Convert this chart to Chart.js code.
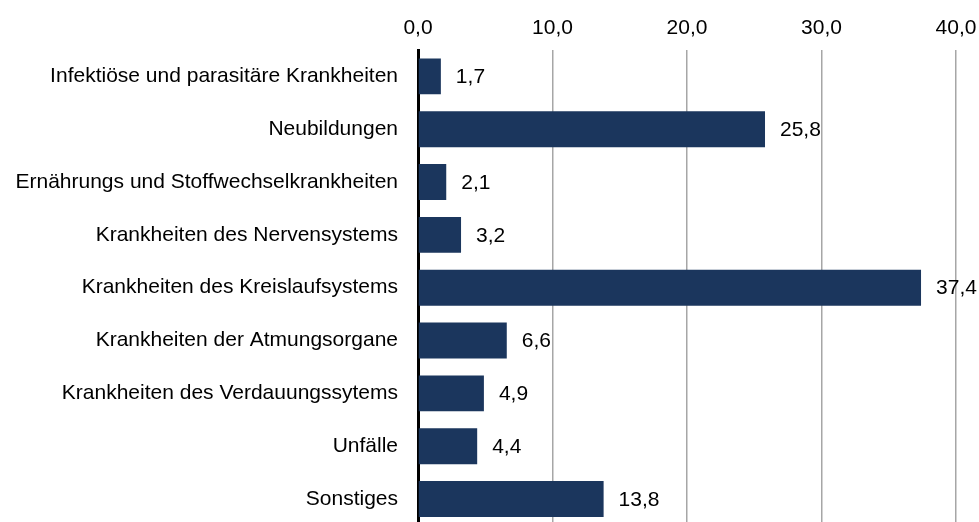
<!DOCTYPE html>
<html>
<head>
<meta charset="utf-8">
<script src="https://cdn.jsdelivr.net/npm/chart.js@4/dist/chart.umd.min.js"></script>
<style>
  html, body { margin: 0; padding: 0; background: #fff; overflow: hidden; }
  canvas { display: block; }
</style>
</head>
<body>
<canvas id="chart" width="979" height="558"></canvas>
<script>
// Todesursachen, Anteile in %
const categories = [
  "Infektiöse und parasitäre Krankheiten",
  "Neubildungen",
  "Ernährungs und Stoffwechselkrankheiten",
  "Krankheiten des Nervensystems",
  "Krankheiten des Kreislaufsystems",
  "Krankheiten der Atmungsorgane",
  "Krankheiten des Verdauungssytems",
  "Unfälle",
  "Sonstiges"
];
const values = [1.7, 25.8, 2.1, 3.2, 37.4, 6.6, 4.9, 4.4, 13.8];
const tickValues = [0, 10, 20, 30, 40];

const FONT = "'Liberation Sans', Arial, sans-serif";
const fmt = v => v.toFixed(1).replace(".", ",");

// value labels to the right of each bar
const valueLabels = {
  id: "valueLabels",
  afterDatasetsDraw(chart) {
    const ctx = chart.ctx;
    const meta = chart.getDatasetMeta(0);
    ctx.save();
    ctx.font = "21px " + FONT;
    ctx.fillStyle = "#000";
    ctx.textAlign = "left";
    ctx.textBaseline = "middle";
    meta.data.forEach((bar, i) => {
      ctx.fillText(fmt(values[i]), bar.x + 15, bar.y + 1);
    });
    ctx.restore();
  }
};

new Chart(document.getElementById("chart"), {
  type: "bar",
  data: {
    labels: categories,
    datasets: [{
      data: values,
      backgroundColor: "#1b365d",
      categoryPercentage: 1,
      barPercentage: 0.68
    }]
  },
  options: {
    indexAxis: "y",
    responsive: false,
    animation: false,
    layout: { padding: { left: 0, right: 23, top: 0, bottom: 0 } },
    plugins: {
      legend: { display: false },
      tooltip: { enabled: false }
    },
    scales: {
      x: {
        position: "top",
        min: 0,
        max: 40,
        afterBuildTicks: s => { s.ticks = tickValues.map(v => ({ value: v })); },
        afterFit: s => { s.height = 50; s.paddingLeft = 0; s.paddingRight = 0; },
        ticks: {
          padding: 9,
          color: "#000",
          font: { family: FONT, size: 21 },
          callback: v => fmt(v)
        },
        grid: { color: "#a6a6a6", lineWidth: 1.5, drawTicks: false },
        border: { display: false }
      },
      y: {
        afterFit: s => { s.width = 418; },
        ticks: {
          padding: 20,
          color: "#000",
          font: { family: FONT, size: 21 }
        },
        grid: { display: false, drawTicks: false },
        border: { display: true, color: "#000", width: 3 }
      }
    }
  },
  plugins: [valueLabels]
});
</script>
</body>
</html>
